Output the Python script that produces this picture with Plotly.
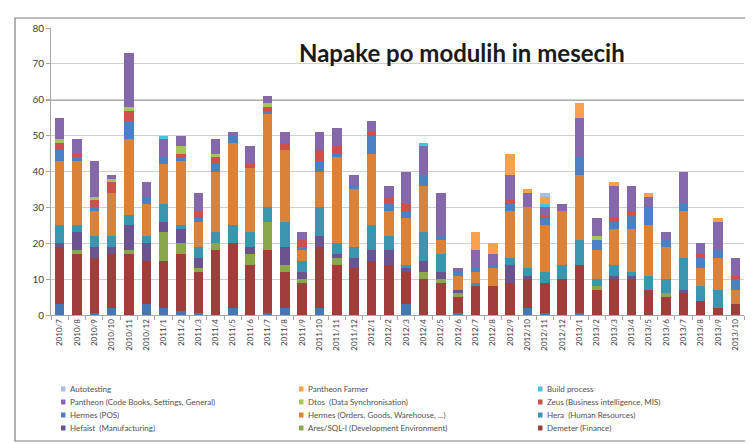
import plotly.graph_objects as go

months = ["2010/7","2010/8","2010/9","2010/10","2010/11","2010/12",
          "2011/1","2011/2","2011/3","2011/4","2011/5","2011/6","2011/7","2011/8","2011/9","2011/10","2011/11","2011/12",
          "2012/1","2012/2","2012/3","2012/4","2012/5","2012/6","2012/7","2012/8","2012/9","2012/10","2012/11","2012/12",
          "2013/1","2013/2","2013/3","2013/4","2013/5","2013/6","2013/7","2013/8","2013/9","2013/10"]

# stacked from the bottom up
base_other = [3,0,0.5,2,0,3,2,1,0.5,0,2,0,0.5,2,0,2,0,0,0,0,3,0,0,0.5,0,0,0,2,0.5,0,0.5,0,0,0,0,0,0,0,0,0]
demeter = [16,17,15.5,15,17,12,13,16,11.5,18,18,14,17.5,10,9,17,14,13,15,14,9,10,9,4.5,8,8,9,8,8.5,10,13.5,7,10,10,7,5,6,4,2,3]
ares = [0,1,0,0,1,0,8,3,1,2,0,3,8,2,1,0,2,0,0,0,0,2,1,1,0,0,0,0,0,0,0,1,0,0,0,1,0,0,0,0]
hefaist = [1,5,3,2,7,5,3,4,3,0,0,2,0,5,2,3,1,3,3,4,1,3,2,1,0,0,5,1,0,0,0,0,1,1,0,0,1,0,0,0]
hera = [5,2,3,3,3,2,5,1,3,3,5,4,4,7,3,8,3,3,7,4,1,8,5,0,1,0,2,2,3,4,7,2,3,1,4,4,9,4,5,0]
hermes_orders = [18,18,7,12,21,9,11,18,7,17,23,18,26,20,3,10,24,16,20,7,13,13,4,4,3,5,13,17,13,15,18,8,10,12,14,9,13,5,9,4]
hermes_pos = [3,1,1,0,5,2,2,1,1,2,2,0,1,0,1,3,1,1,5,2,2,3,1,1,1,1,2,0,2,0,5,3,2,4,5,2,2,3,2,3]
zeus = [2,1,2,3,3,0,0,1,2,2,0,1,1,2,2,3,2,0,1,2,2,0,0,0,0,0,1,0,1,0,0,0,1,1,0,0,0,1,0,1]
dtos = [1,0,1,1,1,0,0,2,0,1,0,0,1,0,0,0,0,0,0,0,0,0,0,0,0,0,0,0,0,0,0,1,0,0,0,0,0,0,0,0]
pantheon = [6,4,10,1,15,4,5,3,5,4,1,5,2,3,2,5,5,3,3,3,9,8,12,1,5,3,7,4,2,2,11,5,9,7,3,2,9,3,8,5]
build = [0,0,0,0,0,0,1,0,0,0,0,0,0,0,0,0,0,0,0,0,0,1,0,0,0,0,0,0,1,0,0,0,0,0,0,0,0,0,0,0]
farmer = [0,0,0,0,0,0,0,0,0,0,0,0,0,0,0,0,0,0,0,0,0,0,0,0,5,3,6,1,2,0,4,0,1,0,1,0,0,0,1,0]
autotesting = [0,0,0,0,0,0,0,0,0,0,0,0,0,0,0,0,0,0,0,0,0,0,0,0,0,0,0,0,1,0,0,0,0,0,0,0,0,0,0,0]

series_names = ["", "Demeter (Finance)", "Ares/SQL-I (Development Environment)", "Hefaist  (Manufacturing)",
                "Hera  (Human Resources)", "Hermes (Orders, Goods, Warehouse, ...)", "Hermes (POS)",
                "Zeus (Business intelligence, MIS)", "Dtos  (Data Synchronisation)",
                "Pantheon (Code Books, Settings, General)", "Build process", "Pantheon Farmer", "Autotesting"]
series_values = [base_other, demeter, ares, hefaist, hera, hermes_orders, hermes_pos, zeus, dtos,
                 pantheon, build, farmer, autotesting]
series_colors = ["#4677B5", "#A13E3B", "#89A84C", "#6B5390", "#3996AE", "#DA8238", "#4C80C4",
                 "#CF4F4B", "#A5C55E", "#8568AC", "#4AC2E2", "#F8A04C", "#A8BDE3"]

title_text = "Napake po modulih in mesecih"
y_ticks = [0, 10, 20, 30, 40, 50, 60, 70, 80]

fig = go.Figure()
for name, vals, col in zip(series_names, series_values, series_colors):
    fig.add_trace(go.Bar(x=months, y=vals, name=name or "Other", marker=dict(color=col, line=dict(width=0)),
                         showlegend=False))

W, H = 753, 444
L, R, T, B = 43, 736, 20, 307

def px_x(px):
    return (px - L) / (R - L)

def px_y(py):
    return (B - py) / (B - T)

shapes = []
annotations = []

# darker line at 60
shapes.append(dict(type="line", xref="paper", yref="y", x0=px_x(38), x1=1.0, y0=60, y1=60,
                   line=dict(color="#5A5A5A", width=1.3), layer="below"))
# outer frame
shapes.append(dict(type="rect", xref="paper", yref="paper", x0=px_x(7), x1=px_x(748),
                   y0=px_y(433), y1=px_y(10), line=dict(color="#7F7F7F", width=1.2)))

# legend (drawn manually, reading order = reverse of stacking)
legend_order = list(range(len(series_names) - 1, 0, -1))
col_x = [53, 291, 530]
row_y = [381, 394, 407, 420]
for k, idx in enumerate(legend_order):
    r, c = divmod(k, 3)
    sx, sy = col_x[c], row_y[r]
    shapes.append(dict(type="rect", xref="paper", yref="paper", x0=px_x(sx), x1=px_x(sx + 4.5),
                       y0=px_y(sy + 2.5), y1=px_y(sy - 2.5), line=dict(width=0),
                       fillcolor=series_colors[idx]))
    annotations.append(dict(text=series_names[idx], xref="paper", yref="paper", x=px_x(sx + 7), y=px_y(sy),
                            xanchor="left", yanchor="middle", showarrow=False,
                            font=dict(size=8, color="#505050", family="Lato")))

annotations.append(dict(text="<b>" + title_text + "</b>", xref="paper", yref="paper", x=px_x(454), y=px_y(45),
                        xanchor="center", yanchor="middle", showarrow=False,
                        font=dict(size=24, color="#1A1A1A", family="Lato")))

fig.update_layout(
    width=W, height=H,
    margin=dict(l=L, r=W - R, t=T, b=H - B, pad=0),
    barmode="stack", bargap=0.45,
    paper_bgcolor="white", plot_bgcolor="white",
    font=dict(family="Lato", size=10, color="#404040"),
    shapes=shapes, annotations=annotations,
    showlegend=False,
    xaxis=dict(type="category", tickangle=-90, tickfont=dict(size=8, color="#404040"),
               showgrid=False, showline=True, linecolor="#A6A6A6", linewidth=1,
               ticks="outside", ticklen=4, tickcolor="#A6A6A6", tickson="boundaries"),
    yaxis=dict(range=[0, 80], tickvals=y_ticks, tickfont=dict(size=10, color="#404040"),
               showgrid=True, gridcolor="#D0D0D0", gridwidth=1,
               showline=True, linecolor="#A6A6A6", linewidth=1,
               ticks="outside", ticklen=4, tickcolor="#A6A6A6", zeroline=False),
)

fig.write_html("out.html")
